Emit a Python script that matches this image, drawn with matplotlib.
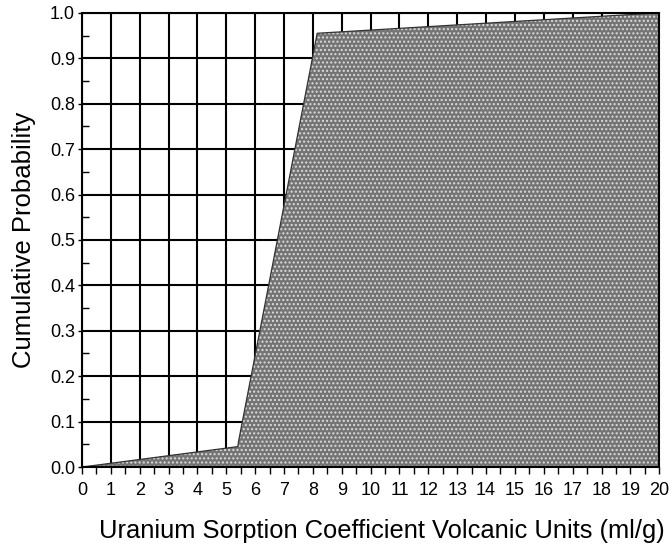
import matplotlib
matplotlib.use("Agg")
import matplotlib.pyplot as plt
from matplotlib import font_manager

# piecewise CDF of the sorption coefficient
kd_values = [0.0, 5.4, 5.42, 8.15, 20.0]
cum_prob = [0.0, 0.045, 0.055, 0.955, 1.0]

x_ticks = list(range(0, 21))
y_ticks = [i / 10 for i in range(11)]

names = {f.name for f in font_manager.fontManager.ttflist}
fam = "Liberation Sans Narrow" if "Liberation Sans Narrow" in names else "Liberation Sans"
plt.rcParams["font.family"] = [fam, "DejaVu Sans"]
plt.rcParams["hatch.linewidth"] = 1.0

fig = plt.figure(figsize=(6.72, 5.58), dpi=100)
ax = fig.add_axes([0.122, 0.163, 0.859, 0.814])

ax.set_xlim(0, 20)
ax.set_ylim(0, 1.0)
ax.set_xticks(x_ticks)
ax.set_yticks(y_ticks)
ax.set_yticklabels([f"{v:.1f}" for v in y_ticks])
ax.set_xticks([i + 0.5 for i in range(20)], minor=True)
ax.set_yticks([i / 10 + 0.05 for i in range(10)], minor=True)
ax.grid(True, which="major", color="black", linewidth=1.5)
ax.set_axisbelow(True)

# stippled fill: grey base with light dot hatch, then a thin dark outline
ax.fill_between(kd_values, cum_prob, 0, facecolor="#747474", hatch="....",
                edgecolor="#dcdcdc", linewidth=0, zorder=2)
ax.plot(kd_values, cum_prob, color="#333333", linewidth=0.9, zorder=2.5)

for s in ax.spines.values():
    s.set_linewidth(1.5)
    s.set_zorder(3)

ax.tick_params(axis="x", which="both", direction="out", length=5, width=1, labelsize=13, pad=6)
ax.tick_params(axis="y", which="major", direction="out", length=3, width=1, labelsize=13, pad=2)
ax.tick_params(axis="y", which="minor", direction="in", length=5, width=1)

ax.set_xlabel("Uranium Sorption Coefficient Volcanic Units (ml/g)", fontsize=18.4, labelpad=14)
ax.xaxis.label.set_x(0.52)
ax.set_ylabel("Cumulative Probability", fontsize=18.5, labelpad=10)

fig.savefig("out.png", dpi=100)
